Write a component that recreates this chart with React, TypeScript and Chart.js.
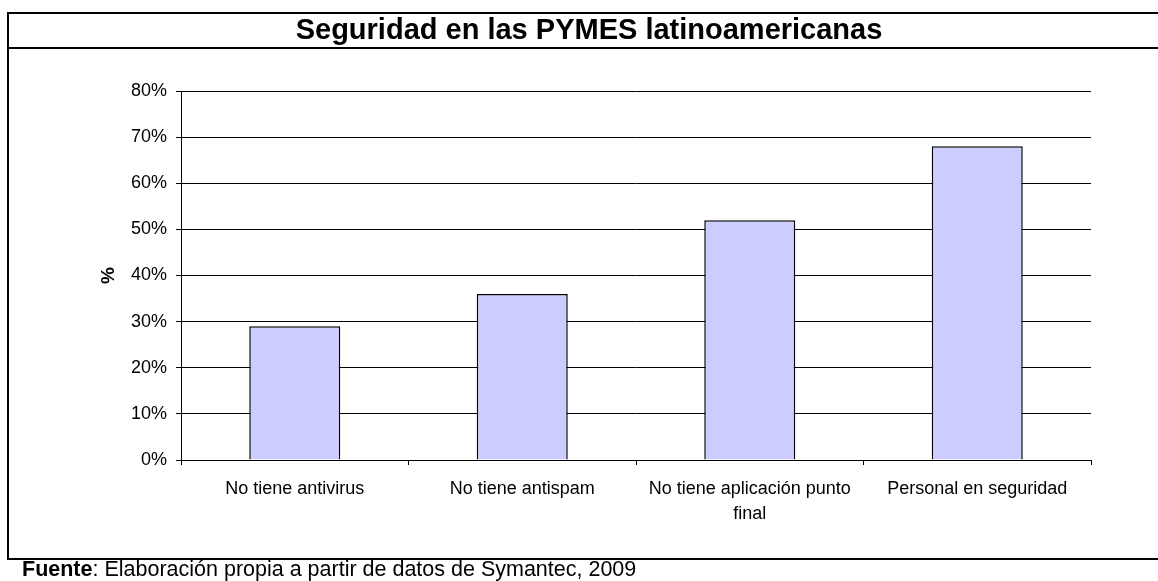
import React, { useEffect, useRef } from "react";
import { Chart, registerables } from "chart.js";

Chart.register(...registerables);

const CATEGORIES: (string | string[])[] = [
  "No tiene antivirus",
  "No tiene antispam",
  ["No tiene aplicación punto", "final"],
  "Personal en seguridad",
];
const VALUES = [29, 36, 52, 68];
const TITLE = "Seguridad en las PYMES latinoamericanas";
const Y_TITLE = "%";
const SOURCE_BOLD = "Fuente";
const SOURCE_REST = ": Elaboración propia a partir de datos de Symantec, 2009";

const FONT = "'Liberation Sans', Arial, sans-serif";

const framePlugin = {
  id: "frame",
  afterDraw(chart: any) {
    const ctx = chart.ctx as CanvasRenderingContext2D;
    const W = chart.width;
    ctx.save();
    ctx.strokeStyle = "#000";
    ctx.lineWidth = 2;
    ctx.beginPath();
    ctx.moveTo(7, 13);
    ctx.lineTo(W, 13);
    ctx.moveTo(7, 48);
    ctx.lineTo(W, 48);
    ctx.moveTo(7, 559);
    ctx.lineTo(W, 559);
    ctx.moveTo(8, 12);
    ctx.lineTo(8, 560);
    ctx.stroke();

    ctx.fillStyle = "#000";
    ctx.textBaseline = "middle";
    ctx.textAlign = "center";
    ctx.font = `bold 29px ${FONT}`;
    ctx.fillText(TITLE, 589, 31);

    ctx.textAlign = "left";
    ctx.font = `bold 21.5px ${FONT}`;
    ctx.fillText(SOURCE_BOLD, 22, 570);
    const w = ctx.measureText(SOURCE_BOLD).width;
    ctx.font = `21.5px ${FONT}`;
    ctx.fillText(SOURCE_REST, 22 + w, 570);
    ctx.restore();
  },
};

export default function App() {
  const ref = useRef<HTMLCanvasElement>(null);
  useEffect(() => {
    if (!ref.current) return;
    const chart = new Chart(ref.current, {
      type: "bar",
      data: {
        labels: CATEGORIES,
        datasets: [
          {
            data: VALUES,
            backgroundColor: "#CCCCFF",
            borderColor: "#000",
            borderWidth: 1.5,
            categoryPercentage: 0.8,
            barPercentage: 0.5,
          },
        ],
      },
      options: {
        responsive: false,
        animation: false,
        layout: { padding: { left: 90, right: 67, top: 91, bottom: 41 } },
        plugins: {
          legend: { display: false },
          tooltip: { enabled: false },
          title: { display: false },
        },
        scales: {
          x: {
            afterFit: (s: any) => {
              s.height = 80;
            },
            grid: {
              drawOnChartArea: false,
              drawTicks: true,
              tickLength: 5,
              color: "#000",
              offset: true,
            },
            border: { color: "#000", width: 1 },
            ticks: {
              color: "#000",
              font: { family: FONT, size: 18, lineHeight: 1.4 },
              padding: 11,
              maxRotation: 0,
              autoSkip: false,
            },
          },
          y: {
            min: 0,
            max: 80,
            afterFit: (s: any) => {
              s.width = 91;
            },
            grid: {
              color: "#000",
              lineWidth: 1,
              drawTicks: true,
              tickLength: 5,
            },
            border: { color: "#000", width: 1 },
            ticks: {
              stepSize: 10,
              color: "#000",
              font: { family: FONT, size: 18 },
              padding: 9,
              callback: (v: any) => `${v}%`,
            },
            title: {
              display: true,
              text: Y_TITLE,
              color: "#000",
              font: { family: FONT, size: 19, weight: "bold" },
              padding: { top: 7, bottom: 0 },
            },
          },
        },
      },
      plugins: [framePlugin],
    });
    return () => chart.destroy();
  }, []);
  return (
    <div style={{ position: "fixed", left: 0, top: 0, width: 1158, height: 581, background: "#fff" }}>
      <canvas ref={ref} width={1158} height={581} />
    </div>
  );
}
